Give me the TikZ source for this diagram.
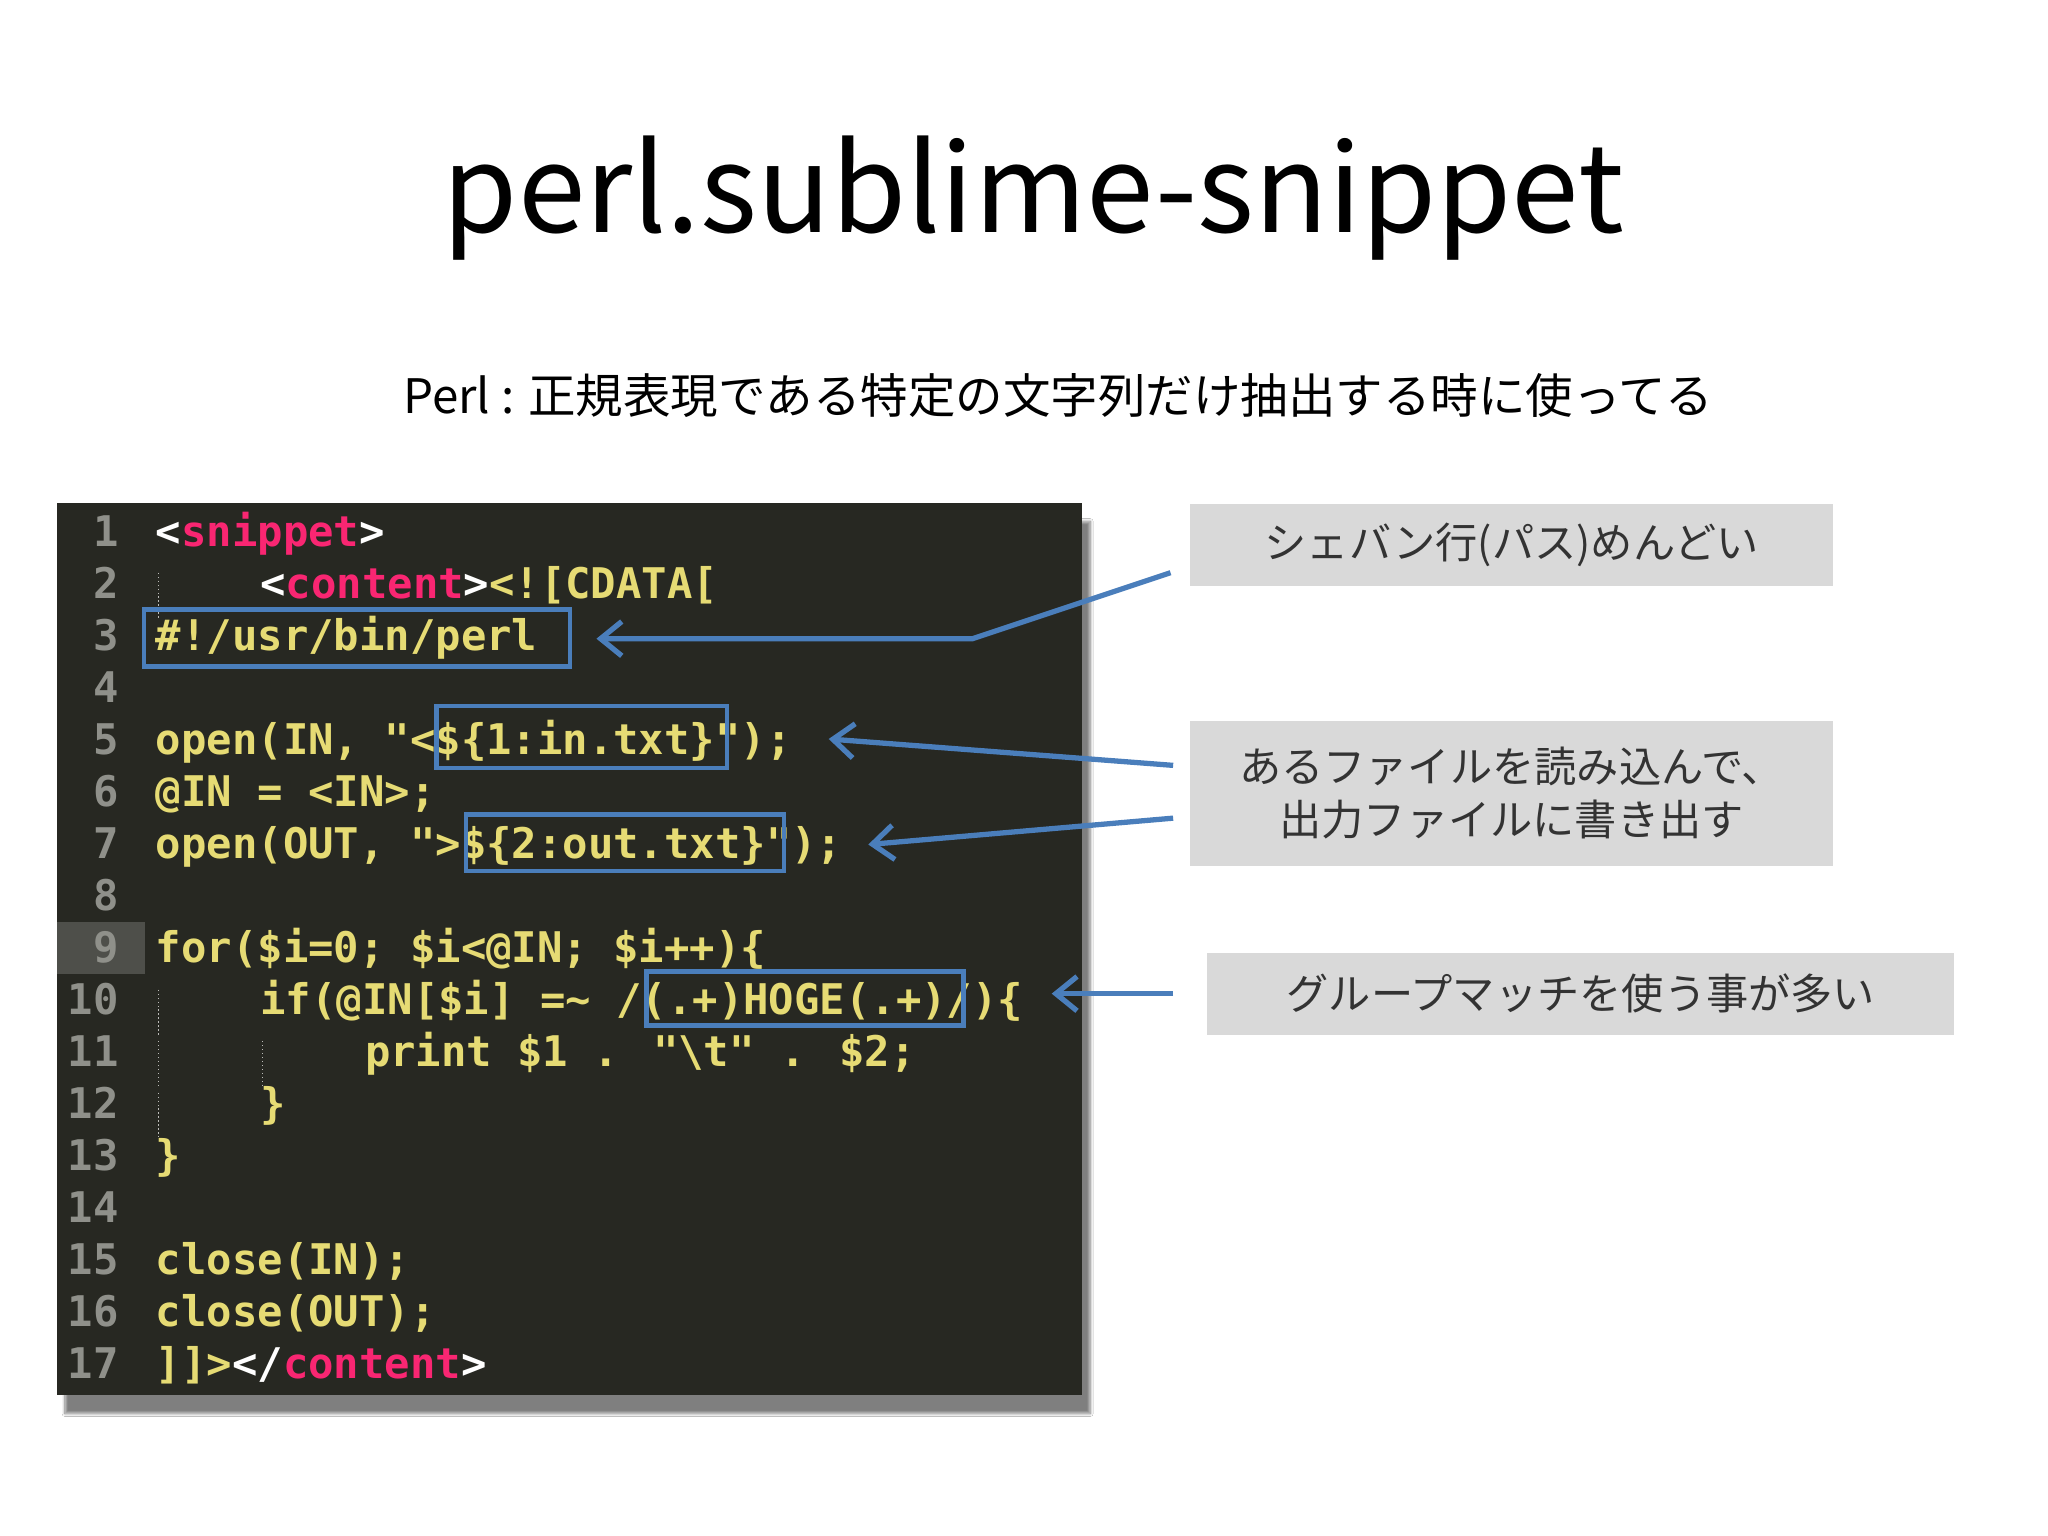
\documentclass[tikz,border=0pt]{standalone}
\usepackage{fontspec}
\setmainfont{Noto Sans CJK JP}
\newfontfamily\codefont{DejaVu Sans Mono Bold}
\usetikzlibrary{shadows.blur,arrows.meta}
\definecolor{bg}{HTML}{272822}
\definecolor{cy}{HTML}{E6DB74}
\definecolor{cp}{HTML}{F92672}
\definecolor{cg}{HTML}{8F908A}
\definecolor{bl}{HTML}{4A7EBB}
\definecolor{callg}{HTML}{D9D9D9}
\newcommand{\cY}[1]{\textcolor{cy}{#1}}
\newcommand{\cP}[1]{\textcolor{cp}{#1}}
\newcommand{\cW}[1]{\textcolor{white}{#1}}
\begin{document}
\begin{tikzpicture}[x=1pt,y=-1pt,
 code/.style={anchor=base west,inner sep=0pt,font=\codefont\fontsize{32}{32}\selectfont,text=cy},
 lnum/.style={anchor=base east,inner sep=0pt,font=\codefont\fontsize{32}{32}\selectfont,text=cg},
 callout/.style={fill=callg,draw=none,inner sep=0pt,font=\fontsize{32}{40}\selectfont,text=black!80,align=center},
 bluebox/.style={draw=bl,line width=3.5pt,inner sep=0pt},
 arr/.style={draw=bl,line width=4pt,-{Straight Barb[length=16pt,width=26pt,line width=4pt]}}]
\useasboundingbox (0,0) rectangle (1552,1164);
\fill[white] (0,0) rectangle (1552,1164);
\node[font=\fontsize{92}{92}\selectfont] (title) at (783,150) {perl.sublime-snippet};
\node[font=\fontsize{36}{36}\selectfont] (sub) at (802,300) {Perl : 正規表現である特定の文字列だけ抽出する時に使ってる};
% panel
\node[fill=bg,minimum width=777pt,minimum height=676pt,inner sep=0pt,anchor=north west,blur shadow={shadow xshift=6pt,shadow yshift=-14pt,shadow blur steps=10,shadow opacity=50}] (panel) at (43,381) {};
\fill[bg!80!white!90!bg] (43,699) rectangle (110,738);
\foreach \i in {1,...,17}{\node[lnum] (n\i) at (90,{414+(\i-1)*39.4}) {\i};}
\def\cw{19.8}
\node[code] (l1) at (118,414) {\cW{<}\cP{snippet}\cW{>}};
\node[code] (l2) at (118+4*\cw,453.4) {\cW{<}\cP{content}\cW{>}<![CDATA[};
\node[code] (l3) at (118,492.8) {\#!/usr/bin/perl};
\node[code] (l5) at (118,571.6) {open(IN, "<\$\{1:in.txt\}");};
\node[code] (l6) at (118,611) {@IN = <IN>;};
\node[code] (l7) at (118,650.4) {open(OUT, ">\$\{2:out.txt\}");};
\node[code] (l9) at (118,729.2) {for(\$i=0; \$i<@IN; \$i++)\{};
\node[code] (l10) at (118+4*\cw,768.6) {if(@IN[\$i] =\textasciitilde{} /(.+)HOGE(.+)/)\{};
\node[code] (l11) at (118+8*\cw,808) {print \$1 . "\textbackslash t" . \$2;};
\node[code] (l12) at (118+4*\cw,847.4) {\}};
\node[code] (l13) at (118,886.8) {\}};
\node[code] (l15) at (118,965.6) {close(IN);};
\node[code] (l16) at (118,1005) {close(OUT);};
\node[code] (l17) at (118,1044.4) {]]>\cW{</}\cP{content}\cW{>}};
\foreach \y in {434,750,789,828}{\draw[cg!60,dotted,line width=1pt] (120,\y) -- ++(0,35);}
\foreach \y in {789}{\draw[cg!60,dotted,line width=1pt] (199,\y) -- ++(0,35);}
% blue boxes
\node[bluebox,minimum width=323pt,minimum height=43pt] (b1) at (270.5,483.5) {};
\node[bluebox,minimum width=220pt,minimum height=47pt] (b2) at (441,558.5) {};
\node[bluebox,minimum width=241pt,minimum height=43pt] (b3) at (473.5,638.5) {};
\node[bluebox,minimum width=240pt,minimum height=41pt] (b4) at (610,756.5) {};
% callouts
\node[callout,minimum width=487pt,minimum height=62pt] (c1) at (1145.5,413) {シェバン行(パス)めんどい};
\node[callout,minimum width=487pt,minimum height=110pt] (c2) at (1145.5,601) {あるファイルを読み込んで、\\出力ファイルに書き出す};
\node[callout,minimum width=566pt,minimum height=62pt] (c3) at (1198,753) {グループマッチを使う事が多い};
% arrows
\coordinate (s1) at (887,434); \coordinate (k1) at (737,484); \coordinate (e1) at (452,484);
\coordinate (s2) at (889,580); \coordinate (e2) at (628,560);
\coordinate (s3) at (889,620); \coordinate (e3) at (658,640);
\coordinate (s4) at (889,753); \coordinate (e4) at (797,753);
\draw[arr] (s1) -- (k1) -- (e1);
\draw[arr] (s2) -- (e2);
\draw[arr] (s3) -- (e3);
\draw[arr] (s4) -- (e4);
\end{tikzpicture}
\end{document}
